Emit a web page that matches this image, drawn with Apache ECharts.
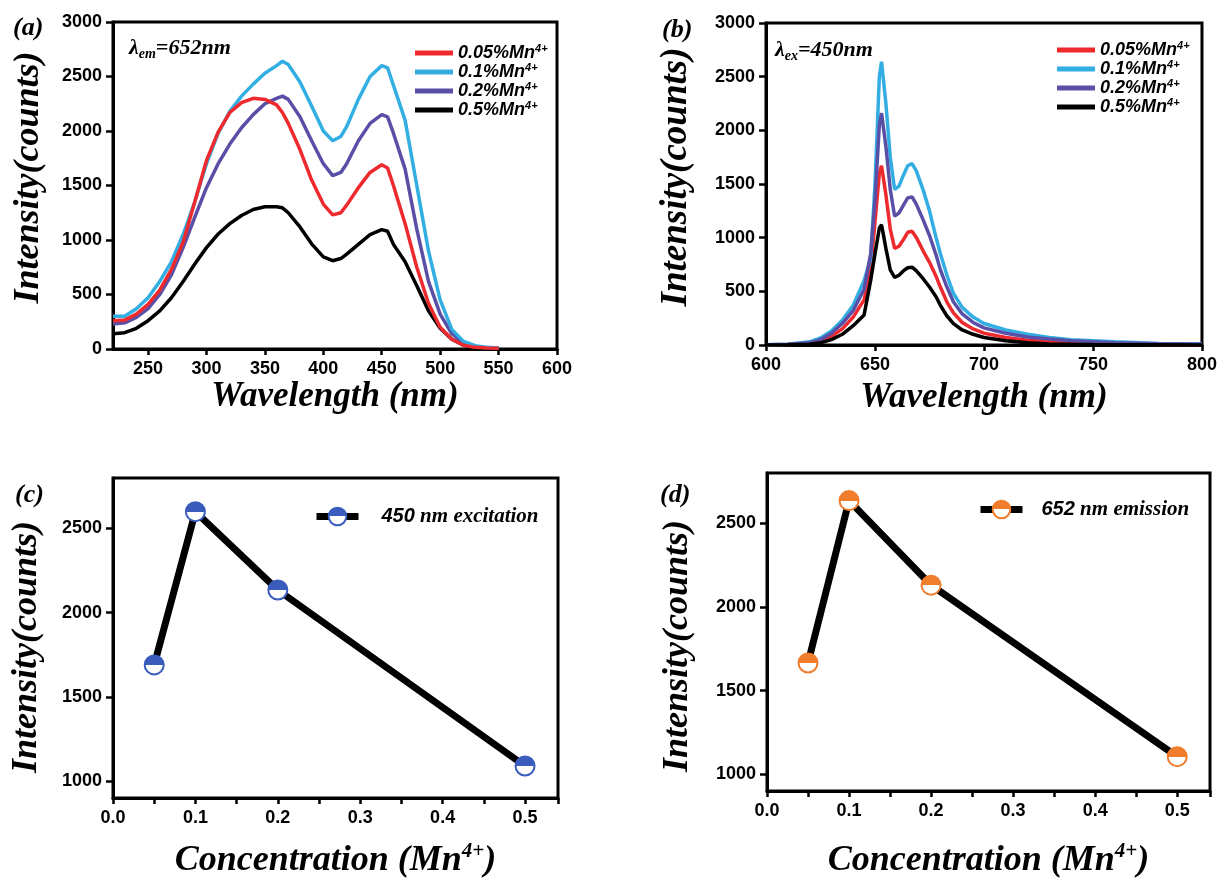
<!DOCTYPE html>
<html><head><meta charset="utf-8">
<script src="https://cdn.jsdelivr.net/npm/echarts@6/dist/echarts.min.js"></script>
<style>html,body{margin:0;padding:0;background:#fff}#c{width:1220px;height:880px}</style>
</head><body><div id="c"></div><script>
// ---- Panel (a): excitation spectra (lambda_em = 652 nm)
const aWave   = [220,230,240,250,260,270,280,290,300,310,320,330,340,350,360,365,370,380,390,400,408,415,420,430,440,450,455,460,470,480,490,500,510,520,530,540,550];
const aRed    = [260,265,320,410,540,730,980,1350,1730,1990,2170,2260,2300,2290,2240,2170,2070,1830,1550,1330,1230,1250,1320,1480,1620,1690,1660,1500,1150,750,420,200,90,35,15,9,6];
const aCyan   = [300,300,370,470,620,800,1050,1350,1700,1980,2180,2320,2430,2530,2600,2640,2610,2450,2230,2000,1910,1950,2040,2290,2500,2600,2580,2420,2100,1500,900,450,180,70,30,15,9];
const aPurple = [230,240,290,370,500,680,930,1210,1480,1700,1880,2030,2150,2250,2300,2320,2290,2130,1910,1700,1590,1620,1700,1910,2070,2150,2130,1980,1650,1100,620,320,140,55,24,12,6];
const aBlack  = [140,150,190,260,350,470,620,780,930,1055,1150,1225,1280,1305,1305,1295,1250,1120,965,845,810,830,870,960,1050,1095,1080,960,800,580,350,190,90,35,15,9,6];
// ---- Panel (b): emission spectra (lambda_ex = 450 nm)
const bWave   = [600,610,620,625,630,635,640,645,648,650,652,653,655,657,659,661,663,665,667,669,672,675,678,680,683,686,690,695,700,710,720,730,740,750,760,780,800];
const bRed    = [2,5,15,35,80,150,260,420,700,1150,1600,1670,1400,1080,900,920,980,1050,1060,1000,880,770,640,540,400,300,210,150,110,70,45,30,20,15,10,5,3];
const bCyan   = [3,8,30,65,130,230,370,600,800,1500,2500,2640,2250,1750,1450,1480,1580,1670,1690,1620,1450,1250,1000,850,650,480,350,260,200,140,100,70,50,40,30,15,10];
const bPurple = [3,6,20,50,110,200,320,520,850,1350,2050,2160,1850,1450,1200,1230,1300,1370,1380,1310,1170,1020,840,700,540,400,290,210,160,110,75,55,40,30,22,12,8];
const bBlack  = [1,3,8,20,50,100,180,280,600,850,1090,1120,900,700,630,650,690,720,725,690,620,540,450,370,270,200,140,100,70,40,20,10,6,4,3,2,1];
// ---- Panels (c), (d): intensity vs concentration
const conc  = [0.05, 0.1, 0.2, 0.5];
const cVals = [1690, 2600, 2135, 1090];
const dVals = [1665, 2635, 2130, 1105];
const seriesNames = ['0.05%Mn4+','0.1%Mn4+','0.2%Mn4+','0.5%Mn4+'];
const cName = '450 nm excitation';
const dName = '652 nm emission';

const colors = ['#ee2a2e','#33aee3','#5a4fa6','#000000'];
const blue = '#3a5cbd', orange = '#f07d2c';

const zip = (xs, ys) => xs.map((x, i) => [x, ys[i]]);
const serifBI = {fontFamily:'Liberation Serif', fontStyle:'italic', fontWeight:'bold', color:'#000'};
const sansBI  = {fontFamily:'Liberation Sans', fontStyle:'italic', fontWeight:'bold', color:'#000'};

function lab(extra) {
  return Object.assign({color:'#000', fontFamily:'Liberation Sans', fontWeight:'bold', fontSize:18, margin:11,
    formatter: v => String(v)}, extra || {});
}
function xAx(gi, min, max, opt) {
  return Object.assign({
    type:'value', gridIndex:gi, min:min, max:max,
    axisLine:{show:true, onZero:false, lineStyle:{color:'#000', width:3}},
    axisTick:{show:true, inside:false, length:6, lineStyle:{color:'#000', width:2.5}},
    axisLabel:lab(),
    splitLine:{show:false},
    nameLocation:'middle',
    nameTextStyle:Object.assign({fontSize:35}, serifBI)
  }, opt);
}
function yAx(gi, min, max, opt) {
  return Object.assign({
    type:'value', gridIndex:gi, min:min, max:max,
    axisLine:{show:true, onZero:false, lineStyle:{color:'#000', width:3}},
    axisTick:{show:true, inside:false, length:7, lineStyle:{color:'#000', width:2.5}},
    axisLabel:lab(),
    splitLine:{show:false},
    name:'Intensity(counts)', nameLocation:'middle',
    nameTextStyle:Object.assign({fontSize:36}, serifBI)
  }, opt);
}

const legRich = {
  m:Object.assign({fontSize:18, lineHeight:20}, sansBI),
  s:Object.assign({fontSize:11, lineHeight:20, verticalAlign:'top'}, sansBI)
};
const legFmt = n => '{m|' + n.replace('4+','') + '}{s|4+}';

function half(color) {
  return {type:'linear', x:0, y:0, x2:0, y2:1, colorStops:[
    {offset:0, color:color},{offset:0.5, color:color},{offset:0.5, color:'#fff'},{offset:1, color:'#fff'}]};
}

const series = [];
[aRed, aCyan, aPurple, aBlack].forEach((d, i) => series.push({
  type:'line', name:seriesNames[i], xAxisIndex:0, yAxisIndex:0, data:zip(aWave, d),
  showSymbol:false, symbol:'none', color:colors[i], lineStyle:{width:3.5, color:colors[i]}, z: 10 - i
}));
[bRed, bCyan, bPurple, bBlack].forEach((d, i) => series.push({
  type:'line', name:seriesNames[i], xAxisIndex:1, yAxisIndex:1, data:zip(bWave, d),
  showSymbol:false, symbol:'none', color:colors[i], lineStyle:{width:3.5, color:colors[i]}, z: 10 + i
}));
series.push({
  type:'line', name:cName, xAxisIndex:2, yAxisIndex:2, data:zip(conc, cVals),
  symbol:'circle', symbolSize:19, lineStyle:{color:'#000', width:7},
  itemStyle:{color:half(blue), borderColor:blue, borderWidth:2}
});
series.push({
  type:'line', name:dName, xAxisIndex:3, yAxisIndex:3, data:zip(conc, dVals),
  symbol:'circle', symbolSize:19, lineStyle:{color:'#000', width:7},
  itemStyle:{color:half(orange), borderColor:orange, borderWidth:2}
});

const gridBase = {show:true, borderColor:'#000', borderWidth:3, containLabel:false};
const concName = '{n|Concentration (Mn}{s|4+}{n|)}';
const concStyle = {rich:{n:Object.assign({fontSize:36, lineHeight:40}, serifBI), s:Object.assign({fontSize:21, lineHeight:40, verticalAlign:'top'}, serifBI)}};
const minorX = {show:true, splitNumber:2, length:6, lineStyle:{color:'#000', width:2.5}};

const option = {
  backgroundColor:'#fff',
  animation:false,
  grid:[
    Object.assign({left:113, top:22, width:444, height:327}, gridBase),
    Object.assign({left:766, top:23, width:441, height:322}, gridBase),
    Object.assign({left:113, top:478, width:445, height:325}, gridBase),
    Object.assign({left:767, top:473, width:443, height:324}, gridBase)
  ],
  xAxis:[
    xAx(0, 220, 600, {splitNumber:8, axisLabel:lab({showMinLabel:false}), name:'Wavelength (nm)', nameGap:30}),
    xAx(1, 600, 800, {interval:50, name:'Wavelength (nm)', nameGap:35}),
    xAx(2, 0, 0.54, {interval:0.1, minorTick:minorX, axisLabel:lab({showMaxLabel:false, formatter: v => v.toFixed(1)}),
      name:concName, nameGap:43, nameTextStyle:concStyle}),
    xAx(3, 0, 0.54, {interval:0.1, minorTick:minorX, axisLabel:lab({showMaxLabel:false, formatter: v => v.toFixed(1)}),
      name:concName, nameGap:50, nameTextStyle:concStyle})
  ],
  yAxis:[
    yAx(0, 0, 3000, {interval:500, nameGap:66, nameTextStyle:Object.assign({fontSize:36, padding:[0,0,0,16]}, serifBI)}),
    yAx(1, 0, 3000, {interval:500, nameGap:71, nameTextStyle:Object.assign({fontSize:37, padding:[0,0,0,14]}, serifBI)}),
    yAx(2, 900, 2800, {splitNumber:4, axisLabel:lab({showMinLabel:false, showMaxLabel:false}), nameGap:68,
      nameTextStyle:Object.assign({fontSize:36, padding:[0,18,0,0]}, serifBI)}),
    yAx(3, 900, 2800, {splitNumber:4, axisLabel:lab({showMinLabel:false, showMaxLabel:false}), nameGap:71,
      nameTextStyle:Object.assign({fontSize:36, padding:[0,28,0,0]}, serifBI)})
  ],
  title:[
    {text:'(a)', left:13, top:15, padding:0, textStyle:Object.assign({fontSize:26}, serifBI)},
    {text:'(b)', left:662, top:17, padding:0, textStyle:Object.assign({fontSize:26}, serifBI)},
    {text:'(c)', left:15, top:482, padding:0, textStyle:Object.assign({fontSize:26}, serifBI)},
    {text:'(d)', left:660, top:482, padding:0, textStyle:Object.assign({fontSize:26}, serifBI)},
    {text:'{l|λ}{s|em}{l|=652nm}', left:129, top:35, padding:0, textStyle:{rich:{l:Object.assign({fontSize:22, lineHeight:26}, serifBI), s:Object.assign({fontSize:14, lineHeight:26, verticalAlign:'bottom'}, serifBI)}}},
    {text:'{l|λ}{s|ex}{l|=450nm}', left:775, top:37, padding:0, textStyle:{rich:{l:Object.assign({fontSize:22, lineHeight:26}, serifBI), s:Object.assign({fontSize:14, lineHeight:26, verticalAlign:'bottom'}, serifBI)}}}
  ],
  legend:[
    {data:seriesNames, orient:'vertical', left:415, top:43, padding:0, itemWidth:38, itemHeight:5, itemGap:0, icon:'rect',
      formatter:legFmt, textStyle:{rich:legRich}, selectedMode:false},
    {data:seriesNames, orient:'vertical', left:1057, top:40, padding:0, itemWidth:38, itemHeight:5, itemGap:0, icon:'rect',
      formatter:legFmt, textStyle:{rich:legRich}, selectedMode:false},
    {data:[cName], left:313, top:506, padding:0, itemWidth:42, itemHeight:22, selectedMode:false,
      lineStyle:{width:7, color:'#000'},
      formatter:'{a|450}{b| nm excitation}',
      textStyle:{rich:{a:Object.assign({fontSize:20, padding:[0,0,0,18]}, sansBI), b:Object.assign({fontSize:21}, serifBI)}}},
    {data:[dName], left:977, top:499, padding:0, itemWidth:42, itemHeight:22, selectedMode:false,
      lineStyle:{width:7, color:'#000'},
      formatter:'{a|652}{b| nm emission}',
      textStyle:{rich:{a:Object.assign({fontSize:20, padding:[0,0,0,14]}, sansBI), b:Object.assign({fontSize:21}, serifBI)}}}
  ],
  series:series
};
const chart = echarts.init(document.getElementById('c'), null, {renderer:'canvas'});
chart.setOption(option);
</script></body></html>
